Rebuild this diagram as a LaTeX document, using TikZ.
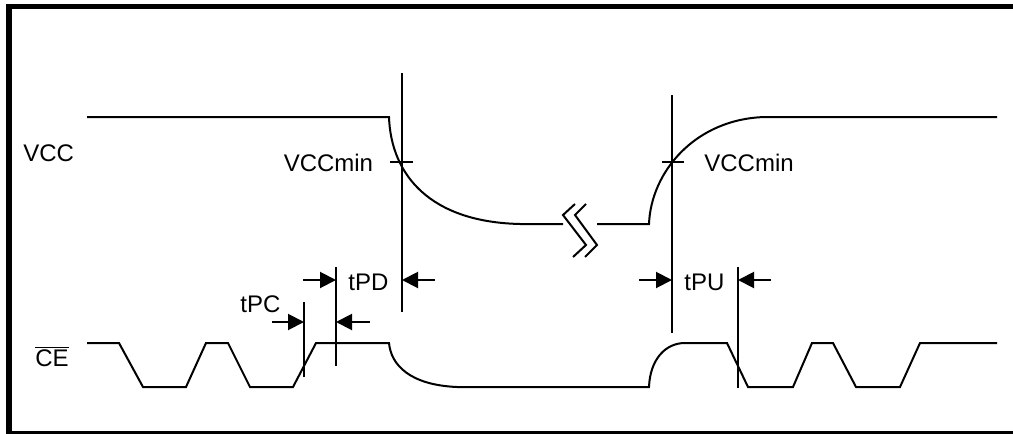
\documentclass[tikz,border=0pt]{standalone}
\usepackage{fontspec}
\setmainfont{Liberation Sans}
\usetikzlibrary{arrows.meta}
\begin{document}
\begin{tikzpicture}[x=0.5pt,y=-0.5pt,
  sig/.style={line width=1pt, line join=miter},
  tline/.style={line width=1pt},
  dim/.style={line width=1pt, -{Triangle[length=8pt,width=8pt]}},
  lbl/.style={inner sep=0pt, font=\fontsize{12pt}{14pt}\selectfont}]
\useasboundingbox (0,0) rectangle (1013,434);
\clip (0,0) rectangle (1013,434);
% frame
\draw[line width=2.6pt] (9,6.5) rectangle (1040,433.5);
% labels
\node[lbl, anchor=west] (vcc) at (23,153.5) {VCC};
\node[lbl, anchor=west] (ce) at (35,356.5) {$\overline{\mbox{CE}}$};
\node[lbl, anchor=east] (vmin1) at (373.5,163) {VCCmin};
\node[lbl, anchor=west] (vmin2) at (704,163) {VCCmin};
\node[lbl, anchor=west] (tpd) at (348,282.5) {tPD};
\node[lbl, anchor=west] (tpc) at (240,304.5) {tPC};
\node[lbl, anchor=west] (tpu) at (684,282.5) {tPU};
% VCC waveform
\draw[sig] (87,117) -- (389,117) .. controls (391,175) and (430,222) .. (520,224) -- (563,224);
\draw[sig] (597,224) -- (649,224) .. controls (651,172) and (695,119) .. (765,117) -- (997,117);
% break symbol
\draw[sig] (575,204) -- (563,215) -- (586,245) -- (573,257);
\draw[sig] (586,204) -- (575,215) -- (597,245) -- (585,257);
% CE waveform
\draw[sig] (87,343) -- (119,343) -- (143,387) -- (186,387) -- (206,343) -- (228,343)
  -- (250,387) -- (293,387) -- (316,343) -- (389,343)
  .. controls (391,365) and (410,385) .. (457,387) -- (649,387)
  .. controls (650,360) and (665,343) .. (685,343) -- (727,343) -- (748,387)
  -- (793,387) -- (812,343) -- (833,343) -- (856,387) -- (900,387) -- (920,343) -- (997,343);
% vertical timing lines
\coordinate (l1t) at (402,73);  \coordinate (l1b) at (402,312);
\coordinate (l2t) at (672,95);  \coordinate (l2b) at (672,333);
\coordinate (l3t) at (738,267); \coordinate (l3b) at (738,388);
\coordinate (lct) at (304,302); \coordinate (lcb) at (304,377);
\coordinate (ldt) at (336,267); \coordinate (ldb) at (336,366);
\draw[tline] (l1t) -- (l1b);
\draw[tline] (l2t) -- (l2b);
\draw[tline] (l3t) -- (l3b);
\draw[tline] (lct) -- (lcb);
\draw[tline] (ldt) -- (ldb);
% VCCmin ticks
\draw[tline] (390,162) -- (413,162);
\draw[tline] (662,162) -- (684,162);
% dimension arrows
\coordinate (a1s) at (303,280); \coordinate (a1e) at (336,280);
\coordinate (a2s) at (435,280); \coordinate (a2e) at (402,280);
\coordinate (a3s) at (639,280); \coordinate (a3e) at (672,280);
\coordinate (a4s) at (771,280); \coordinate (a4e) at (738,280);
\coordinate (a5s) at (272,322); \coordinate (a5e) at (304,322);
\coordinate (a6s) at (370,322); \coordinate (a6e) at (336,322);
\draw[dim] (a1s) -- (a1e);
\draw[dim] (a2s) -- (a2e);
\draw[dim] (a3s) -- (a3e);
\draw[dim] (a4s) -- (a4e);
\draw[dim] (a5s) -- (a5e);
\draw[dim] (a6s) -- (a6e);
\end{tikzpicture}
\end{document}
